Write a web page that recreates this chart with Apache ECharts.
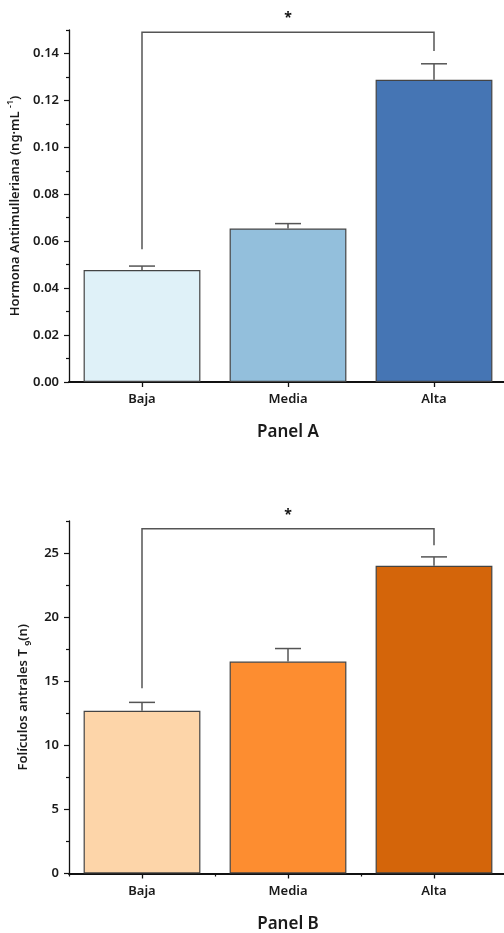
<!DOCTYPE html>
<html>
<head>
<meta charset="utf-8">
<script src="https://cdn.jsdelivr.net/npm/echarts@6/dist/echarts.min.js"></script>
<style>
html,body{margin:0;padding:0;background:#fff;}
#chart{width:504px;height:933px;}
</style>
</head>
<body>
<div id="chart"></div>
<script>
// ---- data ----
const categories = ['Baja', 'Media', 'Alta'];
const amhMeans = [0.0477, 0.0654, 0.1288];
const amhErrors = [0.0017, 0.0021, 0.0068];
const follMeans = [12.7, 16.53, 24.0];
const follErrors = [0.65, 1.02, 0.7];
const amhTicks = [0, 0.02, 0.04, 0.06, 0.08, 0.10, 0.12, 0.14];
const amhMinorTicks = [0.01, 0.03, 0.05, 0.07, 0.09, 0.11, 0.13, 0.15];
const follTicks = [0, 5, 10, 15, 20, 25];
const follMinorTicks = [2.5, 7.5, 12.5, 17.5, 22.5, 27.5];
// significance bracket: [from index, to index, left end, bracket level, right end]
const amhBracket = [0, 2, 0.0566, 0.149, 0.1411];
const follBracket = [0, 2, 14.45, 26.9, 25.6];
const sigLabel = '*';
const amhColors = ['#dff1f8', '#93bfdc', '#4575b4'];
const follColors = ['#fdd5a9', '#fd8d30', '#d4650a'];

const FONT = 'Noto Sans';
const TXT = '#1a1a1a';

const chart = echarts.init(document.getElementById('chart'), null, {renderer: 'canvas'});

function errRender(params, api) {
  const x = api.value(0);
  const m = api.value(1), e = api.value(2);
  const b = api.coord([x, m]);
  const t = api.coord([x, m + e]);
  const st = {stroke: '#555', lineWidth: 1.5};
  return {type: 'group', children: [
    {type: 'line', shape: {x1: b[0], y1: b[1], x2: t[0], y2: t[1]}, style: st},
    {type: 'line', shape: {x1: t[0] - 13, y1: t[1], x2: t[0] + 13, y2: t[1]}, style: st}
  ]};
}
function bracketRender(params, api) {
  const a = api.coord([api.value(0), api.value(2)]);
  const a2 = api.coord([api.value(0), api.value(3)]);
  const c2 = api.coord([api.value(1), api.value(3)]);
  const c = api.coord([api.value(1), api.value(4)]);
  const st = {stroke: '#555', lineWidth: 1.5, fill: null};
  return {type: 'group', children: [
    {type: 'polyline', shape: {points: [a, a2, c2, c]}, style: st},
    {type: 'text', x: (a2[0] + c2[0]) / 2, y: a2[1] - 7,
     style: {text: sigLabel, font: 'bold 14px "' + FONT + '"', fill: '#111', align: 'center', verticalAlign: 'bottom'}}
  ]};
}

function barData(vals, colors) {
  return vals.map((v, i) => ({value: v, itemStyle: {color: colors[i]}}));
}

const yNameStyle = {
  color: TXT, fontFamily: FONT, fontSize: 13, fontWeight: 600,
  rich: {
    a: {fontFamily: FONT, fontSize: 13, fontWeight: 600, color: TXT, lineHeight: 20},
    sup: {fontFamily: FONT, fontSize: 9, fontWeight: 600, color: TXT, verticalAlign: 'top', lineHeight: 20},
    sub: {fontFamily: FONT, fontSize: 9, fontWeight: 600, color: TXT, verticalAlign: 'bottom', lineHeight: 20}
  }
};

const grids = [
  {left: 69, top: 30, width: 438, height: 352, outerBoundsMode: 'none', containLabel: false},
  {left: 69, top: 521, width: 438, height: 352.5, outerBoundsMode: 'none', containLabel: false}
];

function xAxes(gi, name, boundaryTicks) {
  const main = {
    type: 'category', gridIndex: gi, data: categories,
    axisLine: {show: true, lineStyle: {color: '#111', width: 2}},
    axisTick: {show: true, alignWithLabel: true, length: 5, lineStyle: {color: '#111', width: 1.3}},
    axisLabel: {color: TXT, fontFamily: FONT, fontSize: 13, fontWeight: 600, margin: 11},
    name: name, nameLocation: 'middle', nameGap: 42,
    nameTextStyle: {color: TXT, fontFamily: FONT, fontSize: 17, fontWeight: 600}
  };
  const minor = {
    type: 'category', gridIndex: gi, data: categories, position: 'bottom',
    axisLine: {show: false}, axisLabel: {show: false},
    axisTick: {show: boundaryTicks, alignWithLabel: false, length: 3, lineStyle: {color: '#111', width: 1.2}}
  };
  return [main, minor];
}

function yAxes(gi, max, ticks, minorTicks, name, nameGap, fmt) {
  return [{
    type: 'value', gridIndex: gi, min: 0, max: max,
    axisLine: {show: true, lineStyle: {color: '#111', width: 1.3}},
    axisTick: {show: true, length: 5, customValues: ticks, lineStyle: {color: '#111', width: 1.2}},
    axisLabel: {customValues: ticks, formatter: fmt, color: TXT, fontFamily: FONT, fontSize: 13, fontWeight: 600, margin: 10},
    splitLine: {show: false},
    name: name, nameLocation: 'middle', nameRotate: 90, nameGap: nameGap,
    nameTextStyle: yNameStyle
  }, {
    type: 'value', gridIndex: gi, min: 0, max: max, position: 'left',
    axisLine: {show: false}, axisLabel: {show: false}, splitLine: {show: false},
    axisTick: {show: true, length: 3, customValues: minorTicks, lineStyle: {color: '#111', width: 1.2}}
  }];
}

const option = {
  backgroundColor: '#fff',
  animation: false,
  grid: grids,
  xAxis: [].concat(xAxes(0, 'Panel A', false), xAxes(1, 'Panel B', true)),
  yAxis: [].concat(
    yAxes(0, 0.15, amhTicks, amhMinorTicks, '{a|Hormona Antimulleriana (ng·mL }{sup|-1}{a|)}', 39, v => v.toFixed(2)),
    yAxes(1, 27.5, follTicks, follMinorTicks, '{a|Folículos antrales T }{sub|9}{a|(n)}', 29, v => String(v))
  ),
  series: [
    {type: 'bar', xAxisIndex: 0, yAxisIndex: 0, barWidth: '80%', data: barData(amhMeans, amhColors),
     itemStyle: {borderColor: '#444', borderWidth: 1.2}},
    {type: 'custom', xAxisIndex: 0, yAxisIndex: 0, renderItem: errRender, z: 3,
     encode: {x: 0, y: [1, 2]},
     data: categories.map((c, i) => [i, amhMeans[i], amhErrors[i]])},
    {type: 'custom', xAxisIndex: 0, yAxisIndex: 0, renderItem: bracketRender, z: 4, clip: false,
     encode: {x: [0, 1], y: [2, 3, 4]}, data: [amhBracket]},
    {type: 'bar', xAxisIndex: 2, yAxisIndex: 2, barWidth: '80%', data: barData(follMeans, follColors),
     itemStyle: {borderColor: '#444', borderWidth: 1.2}},
    {type: 'custom', xAxisIndex: 2, yAxisIndex: 2, renderItem: errRender, z: 3,
     encode: {x: 0, y: [1, 2]},
     data: categories.map((c, i) => [i, follMeans[i], follErrors[i]])},
    {type: 'custom', xAxisIndex: 2, yAxisIndex: 2, renderItem: bracketRender, z: 4, clip: false,
     encode: {x: [0, 1], y: [2, 3, 4]}, data: [follBracket]}
  ]
};
chart.setOption(option);
</script>
</body>
</html>
